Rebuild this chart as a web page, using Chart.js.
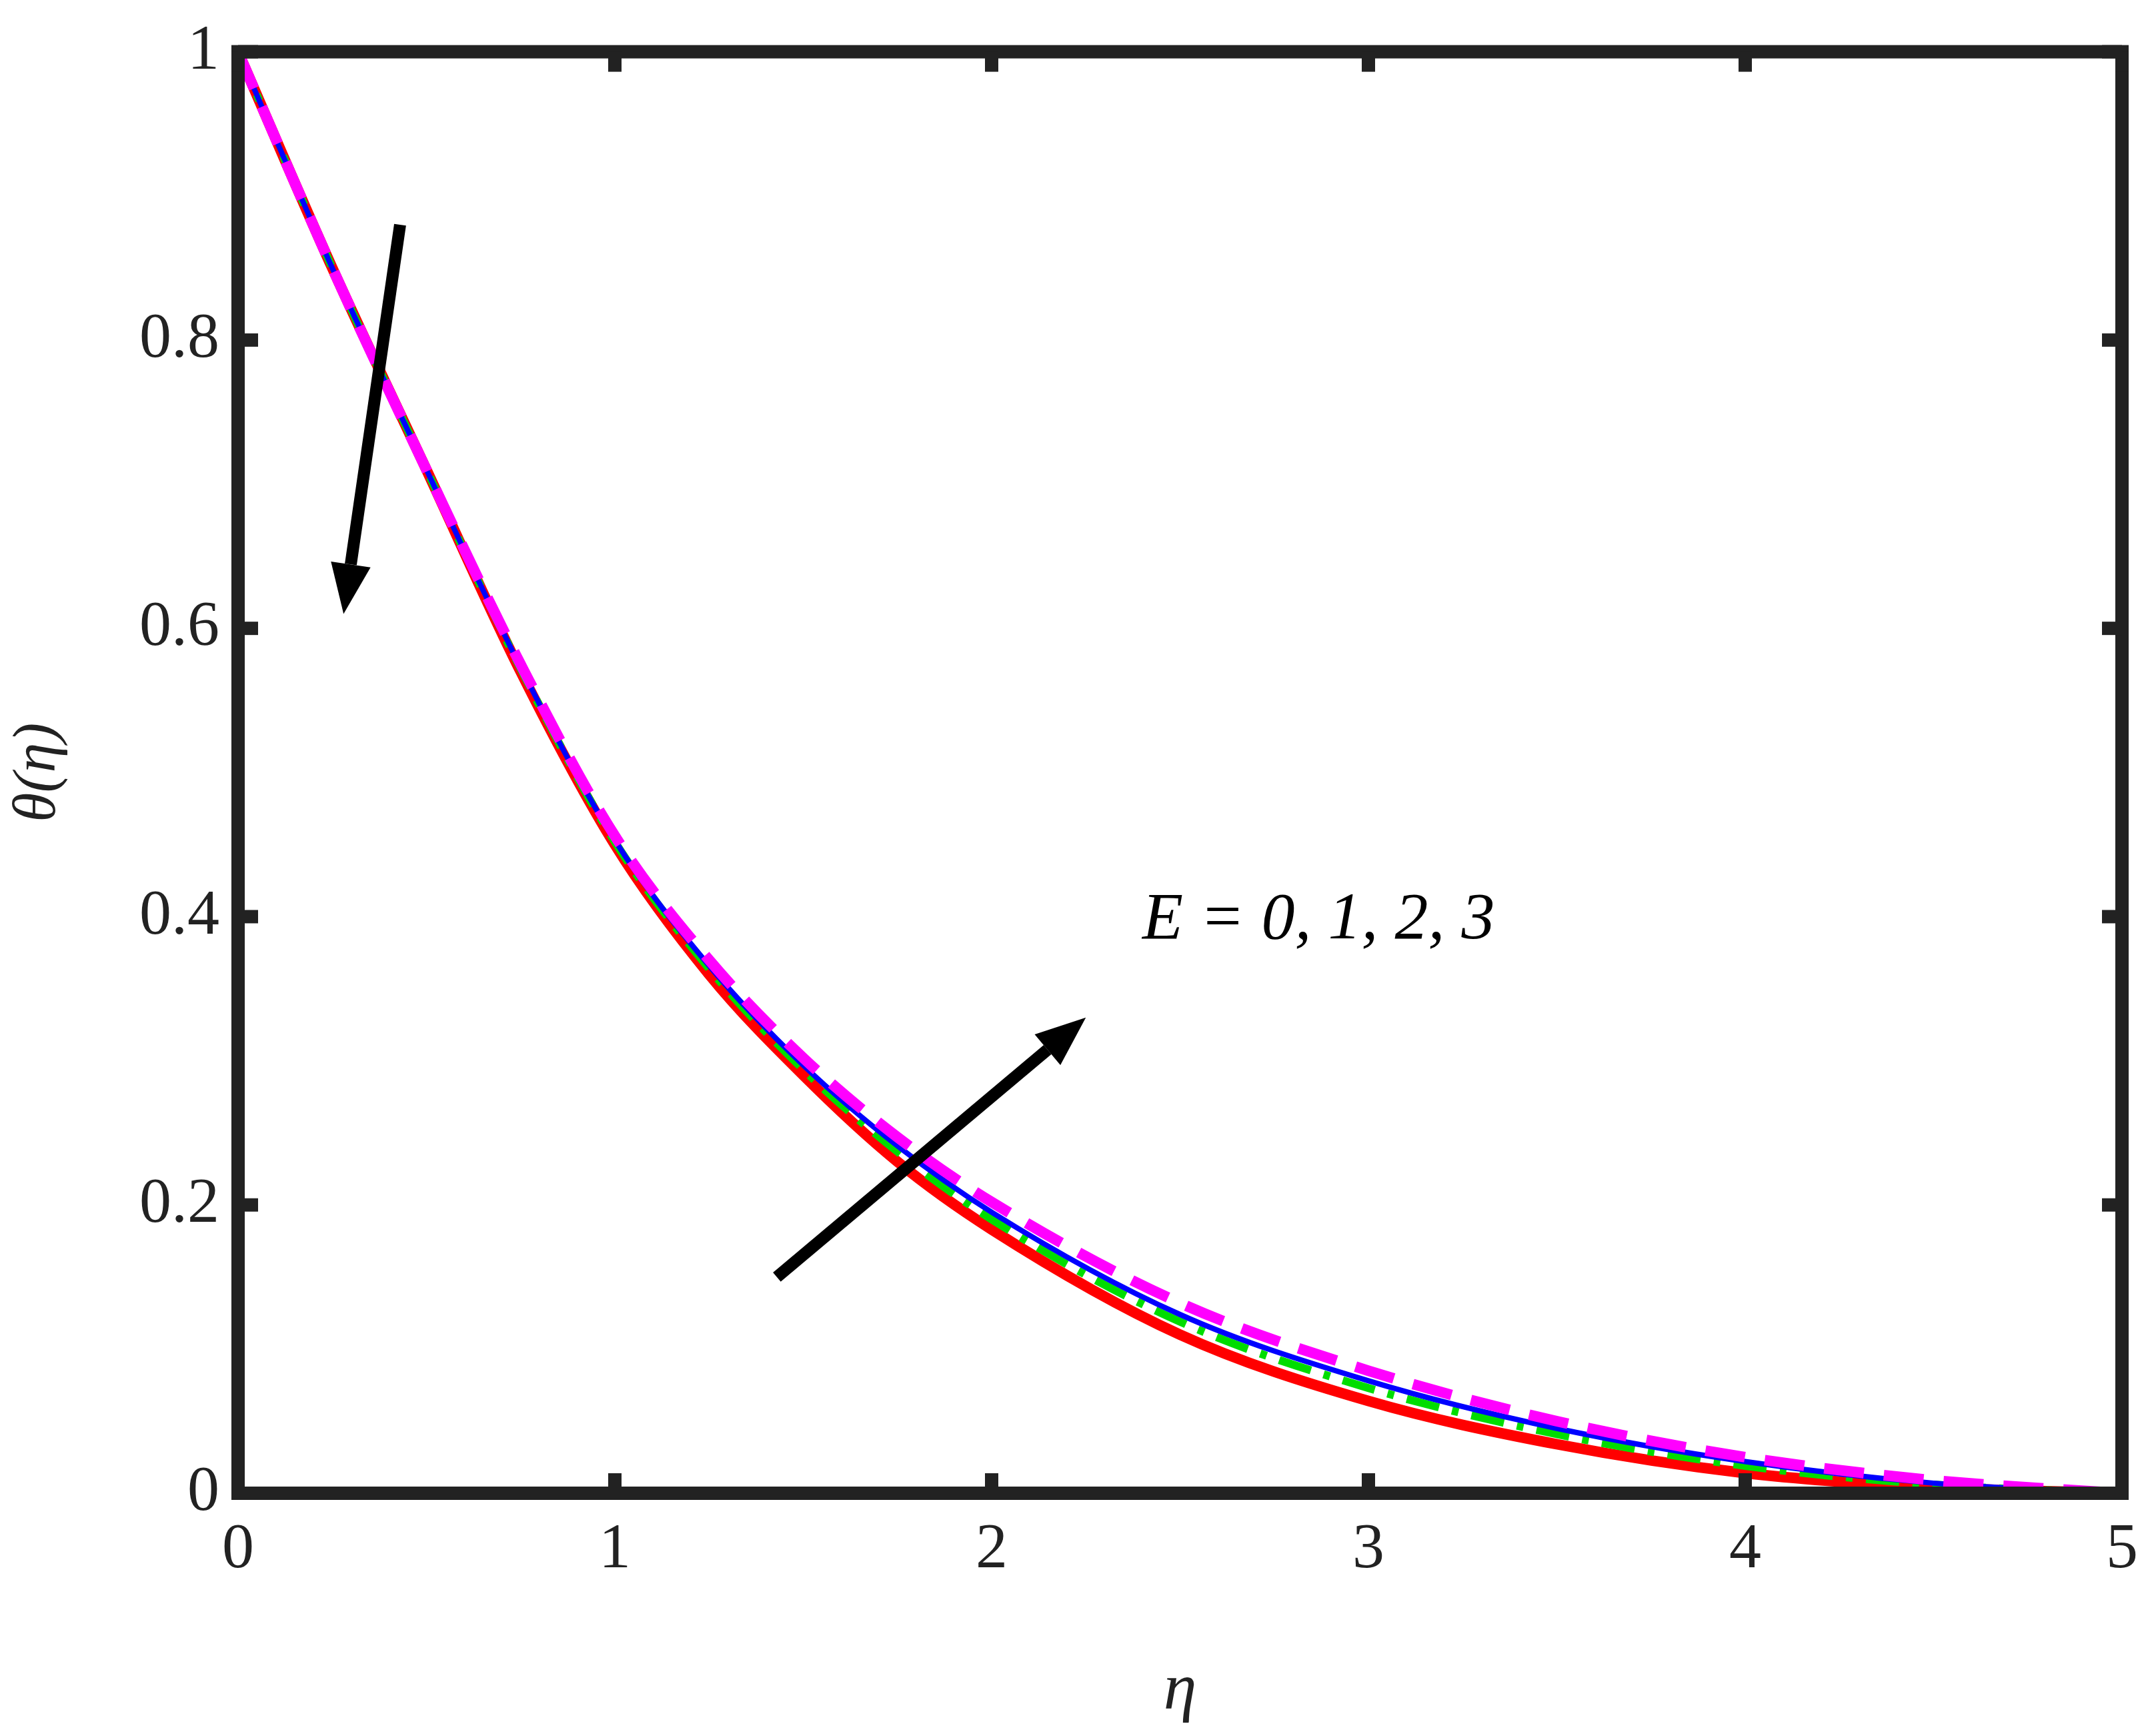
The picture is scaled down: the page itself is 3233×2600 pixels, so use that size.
<script src="https://cdn.jsdelivr.net/npm/chart.js"></script>
<style>
    body { margin: 0; background: #fff; }
    #wrap { width: 3233px; height: 2600px; }
</style>
<div id="wrap"><canvas id="c" width="3233" height="2600"></canvas></div>
<script>
    const eta = [0, 0.25, 0.5, 0.75, 1, 1.25, 1.5, 1.75, 2, 2.5, 3, 3.5, 4, 4.5, 5];
    const thetaE0 = [1, 0.85, 0.71, 0.57, 0.45, 0.36, 0.29, 0.23, 0.183, 0.11, 0.064, 0.034, 0.014, 0.004, 0];
    const thetaE1 = [1, 0.85, 0.71, 0.572, 0.452, 0.364, 0.294, 0.237, 0.19, 0.119, 0.073, 0.041, 0.019, 0.006, 0];
    const thetaE2 = [1, 0.85, 0.71, 0.573, 0.453, 0.366, 0.297, 0.241, 0.195, 0.124, 0.078, 0.045, 0.022, 0.007, 0];
    const thetaE3 = [1, 0.85, 0.71, 0.575, 0.456, 0.37, 0.302, 0.247, 0.202, 0.132, 0.085, 0.05, 0.025, 0.009, 0];
    const xTicks = [0, 1, 2, 3, 4, 5];
    const yTicks = [0, 0.2, 0.4, 0.6, 0.8, 1];

    const pts = arr => arr.map((v, i) => ({ x: eta[i], y: v }));
    const serif = 'Times New Roman, Liberation Serif, serif';

    // frame, inward ticks, arrows and label
    const decor = {
        id: 'decor',
        afterDraw(chart) {
            const { ctx, chartArea: a, scales: { x, y } } = chart;
            ctx.save();
            ctx.strokeStyle = '#222';
            ctx.lineWidth = 20;
            ctx.strokeRect(a.left, a.top, a.right - a.left, a.bottom - a.top);
            xTicks.forEach(t => {
                const px = x.getPixelForValue(t);
                ctx.beginPath(); ctx.moveTo(px, a.bottom); ctx.lineTo(px, a.bottom - 30); ctx.stroke();
                ctx.beginPath(); ctx.moveTo(px, a.top); ctx.lineTo(px, a.top + 30); ctx.stroke();
            });
            yTicks.forEach(t => {
                const py = y.getPixelForValue(t);
                ctx.beginPath(); ctx.moveTo(a.left, py); ctx.lineTo(a.left + 30, py); ctx.stroke();
                ctx.beginPath(); ctx.moveTo(a.right, py); ctx.lineTo(a.right - 30, py); ctx.stroke();
            });
            const arrow = (x0, y0, x1, y1) => {
                const X0 = x.getPixelForValue(x0), Y0 = y.getPixelForValue(y0);
                const X1 = x.getPixelForValue(x1), Y1 = y.getPixelForValue(y1);
                const ang = Math.atan2(Y1 - Y0, X1 - X0);
                const hl = 75, hw = 30;
                const bx = X1 - hl * Math.cos(ang), by = Y1 - hl * Math.sin(ang);
                ctx.strokeStyle = '#000'; ctx.fillStyle = '#000';
                ctx.lineWidth = 18;
                ctx.beginPath(); ctx.moveTo(X0, Y0); ctx.lineTo(bx, by); ctx.stroke();
                ctx.beginPath();
                ctx.moveTo(X1, Y1);
                ctx.lineTo(bx + hw * Math.sin(ang), by - hw * Math.cos(ang));
                ctx.lineTo(bx - hw * Math.sin(ang), by + hw * Math.cos(ang));
                ctx.closePath(); ctx.fill();
            };
            arrow(0.43, 0.88, 0.28, 0.61);
            arrow(1.43, 0.15, 2.25, 0.33);
            ctx.fillStyle = '#000';
            ctx.font = 'italic 100px ' + serif;
            ctx.textBaseline = 'alphabetic';
            ctx.fillText('E = 0, 1, 2, 3', x.getPixelForValue(2.4), y.getPixelForValue(0.385));
            ctx.restore();
        }
    };

    new Chart(document.getElementById('c'), {
        type: 'line',
        data: {
            datasets: [
                { label: 'E = 0', data: pts(thetaE0), borderColor: '#ff0000', borderWidth: 16, order: 4 },
                { label: 'E = 1', data: pts(thetaE1), borderColor: '#00dd00', borderWidth: 12, borderDash: [50, 20, 10, 20], order: 3 },
                { label: 'E = 2', data: pts(thetaE2), borderColor: '#0000ff', borderWidth: 8, order: 2 },
                { label: 'E = 3', data: pts(thetaE3), borderColor: '#ff00ff', borderWidth: 16, borderDash: [60, 30], order: 1 }
            ]
        },
        options: {
            responsive: false,
            animation: false,
            parsing: false,
            layout: { padding: { top: 46, right: 51 } },
            elements: { point: { radius: 0 }, line: { tension: 0.4, cubicInterpolationMode: 'monotone' } },
            plugins: { legend: { display: false }, tooltip: { enabled: false } },
            scales: {
                x: {
                    type: 'linear', min: 0, max: 5,
                    afterFit(s) { s.height = 361; },
                    afterBuildTicks(s) { s.ticks = xTicks.map(v => ({ value: v })); },
                    grid: { display: false }, border: { display: false },
                    ticks: { color: '#222', font: { family: serif, size: 96 }, padding: 20 },
                    title: { display: true, text: 'η', color: '#222', font: { family: serif, size: 100, style: 'italic' }, padding: { top: 0 } }
                },
                y: {
                    type: 'linear', min: 0, max: 1,
                    afterFit(s) { s.width = 357; },
                    afterBuildTicks(s) { s.ticks = yTicks.map(v => ({ value: v })); },
                    grid: { display: false }, border: { display: false },
                    ticks: { color: '#222', font: { family: serif, size: 96 }, padding: 20, callback: v => String(v) },
                    title: { display: true, text: 'θ(η)', color: '#222', font: { family: serif, size: 90, style: 'italic' }, padding: { bottom: 0 } }
                }
            }
        },
        plugins: [decor]
    });
</script>
